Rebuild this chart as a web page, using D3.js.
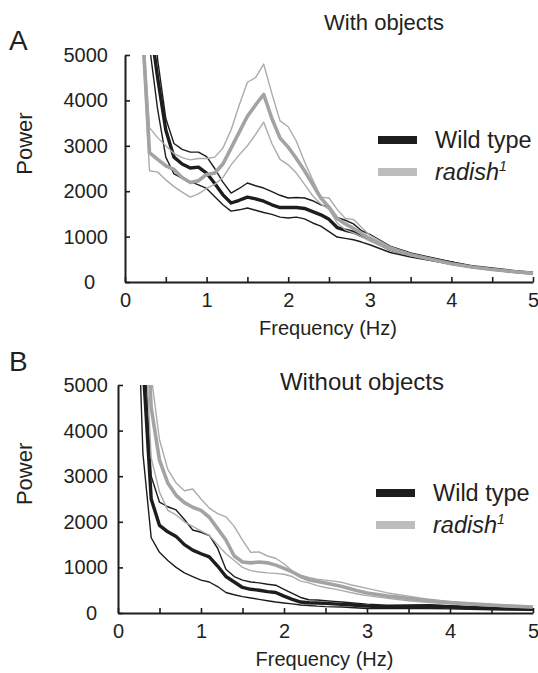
<!DOCTYPE html>
<html>
<head>
<meta charset="utf-8">
<script src="https://cdn.jsdelivr.net/npm/d3@7"></script>
<style>
  body { margin: 0; background: #fff; }
  svg text { font-family: "Liberation Sans", Arial, sans-serif; fill: #231f20; }
</style>
</head>
<body>
<div id="chart"></div>
<script>
// frequency samples (Hz)
const freq = [0.2, 0.3, 0.4, 0.5, 0.6, 0.7, 0.8, 0.9, 1.0, 1.1, 1.2, 1.3, 1.4, 1.5, 1.6, 1.7, 1.8, 1.9,
  2.0, 2.1, 2.2, 2.3, 2.4, 2.5, 2.6, 2.7, 2.8, 2.9, 3.0, 3.25, 3.5, 3.75, 4.0, 4.25, 4.5, 4.75, 5.0];

// A: with objects
const wtMeanA = [9000, 5800, 4500, 3350, 2750, 2600, 2510, 2530, 2400, 2170, 1920, 1740, 1800, 1870, 1830, 1780, 1700, 1640,
  1640, 1640, 1620, 1550, 1480, 1380, 1200, 1140, 1100, 1020, 950, 720, 600, 510, 420, 340, 285, 235, 195];
const wtHighA = [10000, 7000, 4900, 3600, 3050, 2920, 2860, 2860, 2760, 2500, 2200, 1960, 2060, 2180, 2120, 2070, 1990, 1910,
  1850, 1860, 1850, 1790, 1700, 1650, 1420, 1360, 1280, 1130, 1050, 790, 640, 540, 440, 350, 290, 240, 200];
const wtLowA = [8000, 5200, 3800, 2750, 2380, 2290, 2210, 2140, 2060, 1880, 1700, 1560, 1590, 1630, 1580, 1530, 1490, 1430,
  1410, 1430, 1390, 1300, 1230, 1110, 990, 960, 930, 880, 820, 650, 550, 470, 390, 320, 270, 225, 185];
const radMeanA = [6000, 2850, 2700, 2560, 2480, 2300, 2190, 2230, 2370, 2400, 2600, 2950, 3300, 3650, 3900, 4130, 3600, 3170,
  2970, 2720, 2450, 2150, 1850, 1650, 1400, 1280, 1180, 1070, 950, 740, 600, 500, 400, 330, 275, 230, 190];
const radHighA = [6200, 3400, 3180, 3000, 2830, 2740, 2690, 2720, 2720, 2750, 2950, 3350, 3900, 4400, 4500, 4800, 4150, 3550,
  3420, 3100, 2650, 2250, 1870, 1850, 1600, 1400, 1380, 1200, 1030, 780, 620, 510, 410, 335, 280, 235, 195];
const radLowA = [5800, 2450, 2420, 2250, 2100, 1980, 1870, 1940, 2060, 2150, 2300, 2580, 2800, 3000, 3250, 3520, 3050, 2700,
  2580, 2400, 2150, 1900, 1720, 1600, 1300, 1150, 1080, 1000, 900, 700, 580, 490, 390, 325, 270, 225, 185];

// B: without objects
const wtMeanB = [12000, 5500, 2500, 1920, 1780, 1680, 1500, 1380, 1300, 1230, 1030, 800, 680, 560, 520, 500, 470, 450,
  370, 300, 240, 225, 220, 210, 200, 190, 180, 165, 150, 130, 140, 150, 130, 115, 105, 95, 85];
const wtHighB = [12000, 6500, 3000, 2430, 2330, 2260, 2050, 1820, 1770, 1700, 1420, 960, 800, 720, 680, 660, 630, 610,
  520, 430, 340, 290, 285, 270, 255, 240, 225, 210, 195, 170, 175, 180, 160, 140, 125, 110, 100];
const wtLowB = [9000, 3500, 1650, 1330, 1150, 1000, 880, 800, 720, 680, 580, 450, 400, 360, 330, 300, 270, 240,
  220, 200, 175, 165, 150, 140, 135, 130, 120, 110, 100, 95, 95, 100, 90, 80, 70, 65, 60];
const radMeanB = [15000, 8000, 4500, 3350, 2850, 2580, 2420, 2320, 2250, 2100, 1850, 1600, 1250, 1120, 1100, 1120, 1100, 1050,
  980, 900, 800, 730, 690, 660, 620, 580, 530, 480, 440, 370, 320, 270, 230, 200, 175, 150, 130];
const radHighB = [16000, 9000, 5200, 3800, 3150, 2850, 2680, 2720, 2500, 2300, 2180, 2110, 1900, 1600, 1330, 1340, 1250, 1200,
  1080, 920, 830, 780, 740, 720, 700, 670, 620, 580, 540, 440, 370, 300, 250, 210, 185, 160, 140];
const radLowB = [14000, 7000, 3400, 2650, 2250, 2150, 2000, 1900, 1800, 1700, 1500, 1300, 1150, 1000, 930, 900, 880, 870,
  850, 800, 700, 660, 600, 560, 530, 490, 450, 410, 380, 320, 270, 230, 200, 175, 150, 130, 115];

const yTicks = [0, 1000, 2000, 3000, 4000, 5000];
const xTicks = [0, 0.5, 1, 1.5, 2, 2.5, 3, 3.5, 4, 4.5, 5];

const BLACK = "#1e1c1d";
const GRAY = "#a3a3a3";
const GRAY_THIN = "#ababab";

const svg = d3.select("#chart").append("svg")
  .attr("width", 538)
  .attr("height", 673);

function drawPanel(cfg) {
  const x = d3.scaleLinear().domain([0, 5]).range([0, cfg.width]);
  const y = d3.scaleLinear().domain([0, 5000]).range([cfg.height, 0]);

  const g = svg.append("g")
    .attr("transform", `translate(${cfg.left},${cfg.top})`);

  g.append("clipPath").attr("id", "clip" + cfg.id)
    .append("rect")
    .attr("x", 0).attr("y", 0)
    .attr("width", cfg.width + 2).attr("height", cfg.height);

  const line = d3.line()
    .x((d, i) => x(freq[i]))
    .y(d => y(d));

  const plot = g.append("g").attr("clip-path", `url(#clip${cfg.id})`);

  const series = [
    { data: cfg.wtLow, color: BLACK, w: 1.4 },
    { data: cfg.wtHigh, color: BLACK, w: 1.4 },
    { data: cfg.wtMean, color: BLACK, w: 3.4 },
    { data: cfg.radLow, color: GRAY_THIN, w: 1.4 },
    { data: cfg.radHigh, color: GRAY_THIN, w: 1.4 },
    { data: cfg.radMean, color: GRAY, w: 3.6 }
  ];

  series.forEach(s => {
    plot.append("path")
      .datum(s.data)
      .attr("fill", "none")
      .attr("stroke", s.color)
      .attr("stroke-width", s.w)
      .attr("stroke-linejoin", "round")
      .attr("d", line);
  });

  // axes
  const yAxis = d3.axisLeft(y)
    .tickValues(yTicks)
    .tickSizeInner(-5)
    .tickSizeOuter(0)
    .tickPadding(cfg.yPad)
    .tickFormat(d3.format("d"));

  const yG = g.append("g").call(yAxis);
  yG.selectAll("text")
    .attr("font-size", 20)
    .attr("font-family", "Liberation Sans, Arial, sans-serif")
    .attr("fill", "#231f20")
    .attr("dx", d => d === 0 ? cfg.zeroShift : 0);

  const xAxis = d3.axisBottom(x)
    .tickValues(xTicks)
    .tickSizeInner(-5)
    .tickSizeOuter(0)
    .tickPadding(11)
    .tickFormat(d => Number.isInteger(d) ? d : "");

  const xG = g.append("g")
    .attr("transform", `translate(0,${cfg.height})`)
    .call(xAxis);
  xG.selectAll("text")
    .attr("font-size", 20)
    .attr("font-family", "Liberation Sans, Arial, sans-serif")
    .attr("fill", "#231f20");

  [yG, xG].forEach(a => {
    a.select(".domain").attr("stroke", BLACK).attr("stroke-width", 2);
    a.selectAll(".tick line").attr("stroke", BLACK).attr("stroke-width", 1.6);
  });

  // title
  g.append("text")
    .attr("x", cfg.titleX)
    .attr("y", cfg.titleY)
    .attr("text-anchor", "middle")
    .attr("font-size", cfg.titleSize)
    .text(cfg.title);

  // panel letter
  svg.append("text")
    .attr("x", 9)
    .attr("y", cfg.letterY)
    .attr("font-size", 28)
    .text(cfg.letter);

  // y label
  svg.append("text")
    .attr("text-anchor", "middle")
    .attr("font-size", 22)
    .attr("transform", `translate(32,${cfg.top + cfg.height * 0.39}) rotate(-90)`)
    .text("Power");

  // x label
  g.append("text")
    .attr("x", x(2.5) - 1)
    .attr("y", cfg.height + 53)
    .attr("text-anchor", "middle")
    .attr("font-size", 20)
    .text("Frequency (Hz)");

  // legend
  const leg = g.append("g")
    .attr("transform", `translate(${cfg.legX},${cfg.legY})`);
  leg.append("rect")
    .attr("x", 0).attr("y", -4)
    .attr("width", 39).attr("height", 8)
    .attr("fill", BLACK);
  leg.append("rect")
    .attr("x", 0).attr("y", 28)
    .attr("width", 39).attr("height", 8)
    .attr("fill", "#bdbdbd");
  leg.append("text")
    .attr("x", 57).attr("y", 8)
    .attr("font-size", 23.5)
    .text("Wild type");
  const r = leg.append("text")
    .attr("x", 57).attr("y", 40)
    .attr("font-size", 23.5)
    .attr("font-style", "italic");
  r.append("tspan").text("radish");
  r.append("tspan")
    .attr("dy", -9)
    .attr("font-size", 14)
    .text("1");
}

drawPanel({
  id: "A", letter: "A", letterY: 50, title: "With objects", titleSize: 22,
  left: 125, top: 55, width: 408, height: 227,
  yPad: 17, zeroShift: -13,
  titleX: 259, titleY: -25,
  legX: 253, legY: 85,
  wtMean: wtMeanA, wtHigh: wtHighA, wtLow: wtLowA,
  radMean: radMeanA, radHigh: radHighA, radLow: radLowA
});

drawPanel({
  id: "B", letter: "B", letterY: 371, title: "Without objects", titleSize: 24,
  left: 118, top: 385, width: 415, height: 228,
  yPad: 10, zeroShift: -11,
  titleX: 244, titleY: 5,
  legX: 258, legY: 108,
  wtMean: wtMeanB, wtHigh: wtHighB, wtLow: wtLowB,
  radMean: radMeanB, radHigh: radHighB, radLow: radLowB
});
</script>
</body>
</html>
